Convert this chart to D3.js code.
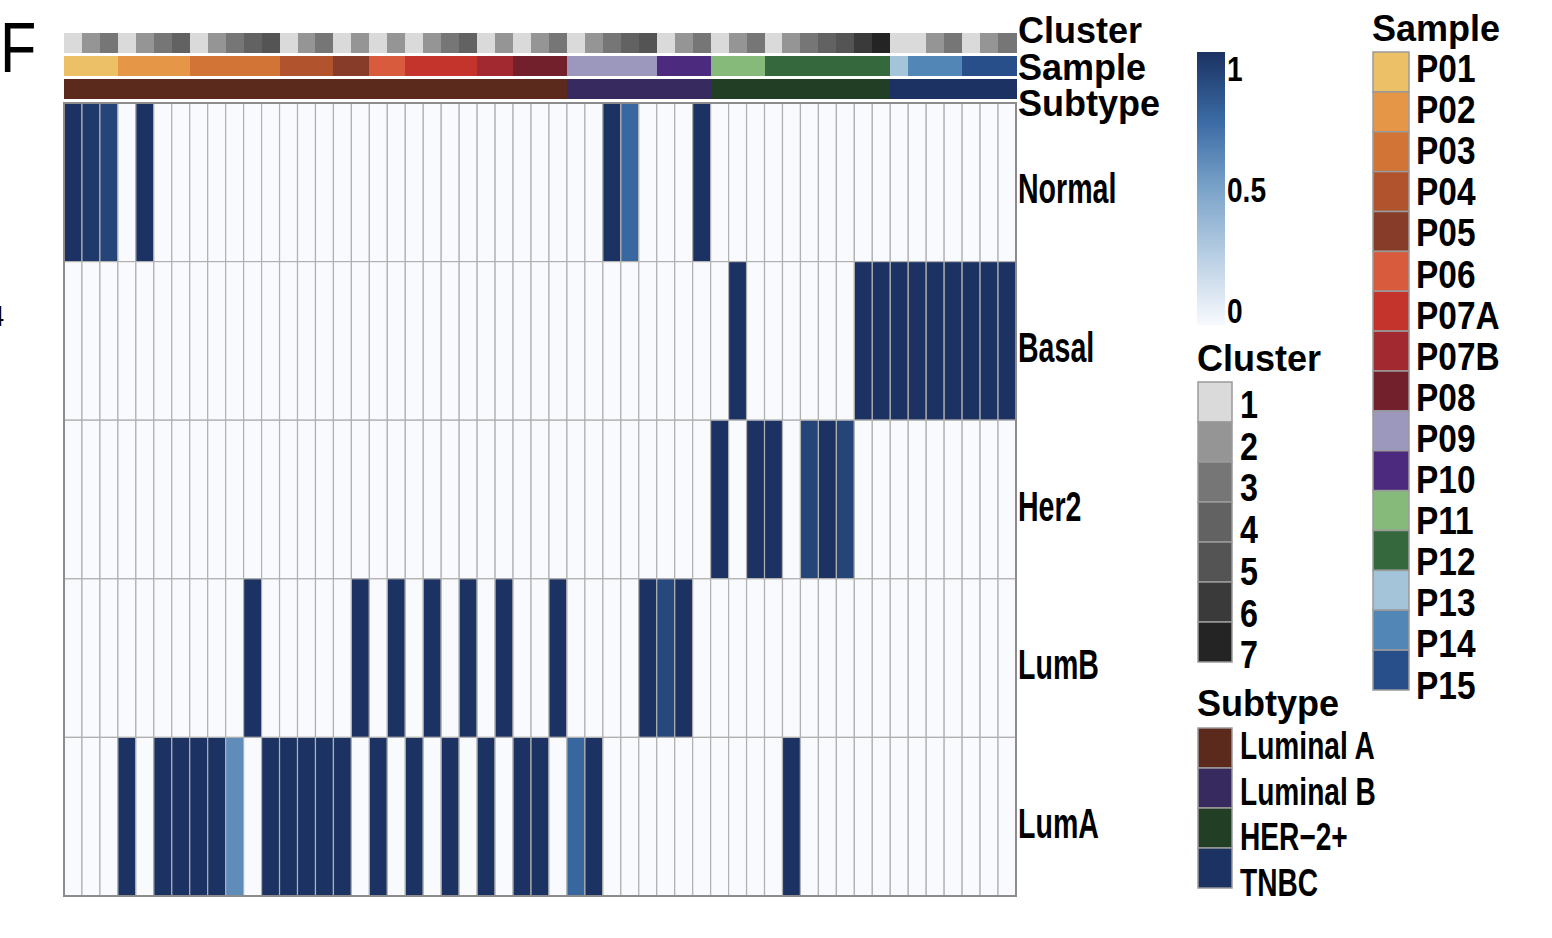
<!DOCTYPE html>
<html><head><meta charset="utf-8">
<script src="https://cdn.jsdelivr.net/npm/d3@7"></script>
<style>body{margin:0;background:#fff} text{font-family:"Liberation Sans",Arial,sans-serif;fill:#000}</style>
</head><body><svg id="c" width="1552" height="938"></svg>
<script>
// ---------------- data ----------------
const rowNames = ["Normal","Basal","Her2","LumB","LumA"];
const normal = [1,0.97,0.92,0,1,0,0,0,0,0, 0,0,0,0,0,0,0,0,0,0, 0,0,0,0,0,0,0,0,0,0, 1,0.76,0,0,0,1,0,0,0,0, 0,0,0,0,0,0,0,0,0,0, 0,0,0];
const basal  = [0,0,0,0,0,0,0,0,0,0, 0,0,0,0,0,0,0,0,0,0, 0,0,0,0,0,0,0,0,0,0, 0,0,0,0,0,0,0,1,0,0, 0,0,0,0,1,1,1,1,1,1, 1,1,1];
const her2   = [0,0,0,0,0,0,0,0,0,0, 0,0,0,0,0,0,0,0,0,0, 0,0,0,0,0,0,0,0,0,0, 0,0,0,0,0,0,1,0,1,1, 0,0.92,1,0.92,0,0,0,0,0,0, 0,0,0];
const lumB   = [0,0,0,0,0,0,0,0,0,0, 1,0,0,0,0,0,1,0,1,0, 1,0,1,0,1,0,0,1,0,0, 0,0,1,0.9,1,0,0,0,0,0, 0,0,0,0,0,0,0,0,0,0, 0,0,0];
const lumA   = [0,0,0,1,0,1,1,1,1,0.6, 0,1,1,1,1,1,0,1,0,1, 0,1,0,1,0,1,1,0,0.77,1, 0,0,0,0,0,0,0,0,0,0, 1,0,0,0,0,0,0,0,0,0, 0,0,0];
const samples = ["P01","P01","P01","P02","P02","P02","P02","P03","P03","P03","P03","P03",
  "P04","P04","P04","P05","P05","P06","P06","P07A","P07A","P07A","P07A","P07B","P07B",
  "P08","P08","P08","P09","P09","P09","P09","P09","P10","P10","P10","P11","P11","P11",
  "P12","P12","P12","P12","P12","P12","P12","P13","P14","P14","P14","P15","P15","P15"];
const clusters = [1,2,3, 1,2,3,4, 1,2,3,4,5, 1,2,3, 1,2, 1,2, 1,2,3,4, 1,2, 1,2,3,
  1,2,3,4,5, 1,2,3, 1,2,3, 1,2,3,4,5,6,7, 1, 1,2,3, 1,2,3];
const sampleNames = ["P01","P02","P03","P04","P05","P06","P07A","P07B","P08","P09","P10","P11","P12","P13","P14","P15"];
const sampleColors = ["#ebc066","#e59647","#d17436","#b1532c","#873c2a","#d85b3e","#c5332d","#a2292f",
  "#72212c","#9b97bd","#4c2a7e","#86ba7b","#35683d","#a4c4da","#5186b7","#294f8b"];
const sampleSubtypes = ["Luminal A","Luminal A","Luminal A","Luminal A","Luminal A","Luminal A","Luminal A","Luminal A",
  "Luminal A","Luminal B","Luminal B","HER−2+","HER−2+","TNBC","TNBC","TNBC"];
const subtypeNames = ["Luminal A","Luminal B","HER−2+","TNBC"];
const subtypeColors = ["#5c2a1d","#362a5e","#223f26","#1b3262"];
const clusterLevels = [1,2,3,4,5,6,7];
const clusterColors = ["#dadada","#959595","#767676","#626262","#545454","#3a3a3a","#242424"];
const colorTicks = [1,0.5,0];
const annotationNames = ["Cluster","Sample","Subtype"];

// ---------------- drawing ----------------
const svg = d3.select("#c");
const matrix = [normal,basal,her2,lumB,lumA];
const nCol = samples.length;
const cols = d3.range(nCol);

const x = d3.scaleBand().domain(cols).range([64,1016]).padding(0);
const y = d3.scaleBand().domain(rowNames).range([103,896]).padding(0);
const heat = d3.scaleLinear().domain([0,0.5,0.75,1]).range(["#f8fafe","#7aa3c9","#3a6aa4","#1b3262"]).clamp(true);
const sampleColor = d3.scaleOrdinal().domain(sampleNames).range(sampleColors);
const subtypeColor = d3.scaleOrdinal().domain(subtypeNames).range(subtypeColors);
const clusterColor = d3.scaleOrdinal().domain(clusterLevels).range(clusterColors);
const sampleToSubtype = new Map(sampleNames.map((s,i)=>[s,sampleSubtypes[i]]));

function txt(g, tx, ty, s, size, weight, sx, anchor){
  return g.append("text").attr("transform",`translate(${tx},${ty}) scale(${sx},1)`)
    .attr("font-size",size).attr("font-weight",weight||"normal")
    .attr("text-anchor",anchor||"start").text(s);
}

// annotation bars
const annY = d3.scaleBand().domain(annotationNames).range([32.5,99]).paddingInner(0.12);
const annFill = {
  Cluster: i => clusterColor(clusters[i]),
  Sample: i => sampleColor(samples[i]),
  Subtype: i => subtypeColor(sampleToSubtype.get(samples[i]))
};
annotationNames.forEach(a=>{
  svg.append("g").attr("shape-rendering","crispEdges").selectAll("rect").data(cols).join("rect")
    .attr("x",i=>x(i)).attr("y",annY(a)).attr("width",x.bandwidth()+0.6).attr("height",annY.bandwidth())
    .attr("fill",annFill[a]);
});

// heatmap cells
const cells = [];
matrix.forEach((row,r)=>row.forEach((v,c)=>cells.push({r:rowNames[r],c,v})));
svg.append("g").selectAll("rect").data(cells).join("rect")
  .attr("x",d=>x(d.c)).attr("y",d=>y(d.r)).attr("width",x.bandwidth()).attr("height",y.bandwidth())
  .attr("fill",d=>heat(d.v)).attr("stroke","#b0b0b0").attr("stroke-width",1.2);
svg.append("rect").attr("x",64).attr("y",103).attr("width",952).attr("height",793)
  .attr("fill","none").attr("stroke","#8c8c8c").attr("stroke-width",2);

// row labels
const tg = svg.append("g");
rowNames.forEach(r=>txt(tg,1018,y(r)+y.bandwidth()/2+21,r,42,"bold",0.68));
// annotation names
annotationNames.forEach((a,i)=>txt(tg,1018,43+i*36.5,a,36,"bold",1.0));

// big panel letter
txt(tg,0,72,"F",70,"normal",0.85);
txt(tg,4,326,"4",30,"normal",0.8,"end");

// color bar legend
const defs = svg.append("defs");
const grad = defs.append("linearGradient").attr("id","hg").attr("x1",0).attr("x2",0).attr("y1",1).attr("y2",0);
d3.range(0,1.001,0.05).forEach(t=>grad.append("stop").attr("offset",t).attr("stop-color",heat(t)));
const cb = d3.scaleLinear().domain([0,1]).range([325,52]);
svg.append("rect").attr("x",1197).attr("y",cb(1)).attr("width",28).attr("height",cb(0)-cb(1)).attr("fill","url(#hg)");
colorTicks.forEach(t=>{
  const yy = t===1 ? cb(1)+29 : (t===0 ? cb(0)-2 : cb(t)+13);
  txt(tg,1227,yy,String(t),36,"bold",0.78);
});

// cluster legend
txt(tg,1197,371,"Cluster",36,"bold",1.0);
const cly = d3.scaleBand().domain(clusterLevels).range([382,662]);
svg.append("g").selectAll("rect").data(clusterLevels).join("rect")
  .attr("x",1198).attr("y",d=>cly(d)).attr("width",34).attr("height",cly.bandwidth())
  .attr("fill",d=>clusterColor(d)).attr("stroke","#9a9a9a").attr("stroke-width",1.5);
clusterLevels.forEach((d,i)=>txt(tg,1240,418+i*41.7,String(d),38,"bold",0.85));

// subtype legend
txt(tg,1197,716,"Subtype",36,"bold",1.0);
const sty = d3.scaleBand().domain(subtypeNames).range([728,888]);
svg.append("g").selectAll("rect").data(subtypeNames).join("rect")
  .attr("x",1198).attr("y",d=>sty(d)).attr("width",34).attr("height",sty.bandwidth())
  .attr("fill",d=>subtypeColor(d)).attr("stroke","#9a9a9a").attr("stroke-width",1.5);
subtypeNames.forEach((d,i)=>txt(tg,1240,759+i*45.7,d,38,"bold",0.74));

// sample legend
txt(tg,1372,41,"Sample",36,"bold",1.0);
const sy = d3.scaleBand().domain(sampleNames).range([52,690]);
svg.append("g").selectAll("rect").data(sampleNames).join("rect")
  .attr("x",1373).attr("y",d=>sy(d)).attr("width",36).attr("height",sy.bandwidth())
  .attr("fill",d=>sampleColor(d)).attr("stroke","#9a9a9a").attr("stroke-width",1.5);
sampleNames.forEach((d,i)=>txt(tg,1416,82+i*41.1,d,38,"bold",0.88));
</script></body></html>
